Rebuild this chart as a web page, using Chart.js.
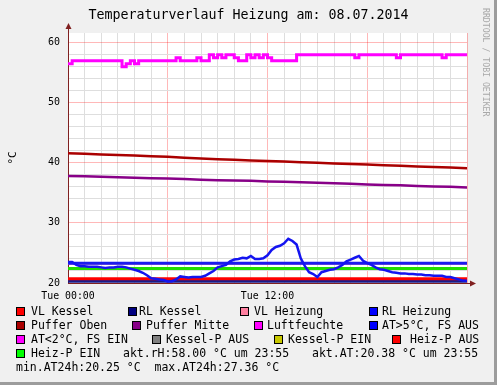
<!DOCTYPE html>
<html>
<head>
<meta charset="utf-8">
<script src="https://cdn.jsdelivr.net/npm/chart.js@4.4.1/dist/chart.umd.min.js"></script>
<style>
  html, body { margin: 0; padding: 0; background: #f0f0f0; }
  #wrap { position: relative; width: 497px; height: 385px; box-sizing: border-box;
          border-right: 3px solid #9c9c9c; border-bottom: 3px solid #9c9c9c; overflow: hidden; }
  #chart { position: absolute; left: 0; top: 0; }
  .txt { position: absolute; font-family: 'DejaVu Sans Mono', monospace; color: #000; white-space: pre; }
  #title { left: 0; width: 497px; top: 7px; text-align: center; font-size: 13.3px; }
  #mark { left: 481px; top: 8px; font-size: 8.2px; color: #a8a8a8; writing-mode: vertical-rl; }
  .box { position: absolute; width: 7px; height: 7px; border: 1px solid #000; }
  .leg { font-size: 11.5px; line-height: 14px; }
</style>
</head>
<body>
<div id="wrap">
  <canvas id="chart" width="497" height="385"></canvas>
  <div id="title" class="txt">Temperaturverlauf Heizung am: 08.07.2014</div>
  <div id="mark" class="txt">RRDTOOL / TOBI OETIKER</div>
  <div id="legend"></div>
</div>
<script>
// time in hours of 08.07.2014
const hourSteps = [0,1,2,3,4,5,6,7,8,9,10,11,12,13,14,15,16,17,18,19,20,21,22,23,24];
const quarterSteps = [];
for (let i = 0; i <= 96; i++) quarterSteps.push(i / 4);

const xTickLabels = { 0: 'Tue 00:00', 12: 'Tue 12:00' };
const yTickLabels = [20, 30, 40, 50, 60];

// hourly series (°C)
const vlKessel   = [20.7,20.7,20.7,20.7,20.7,20.7,20.7,20.7,20.7,20.7,20.7,20.7,20.7,20.7,20.7,20.7,20.7,20.7,20.7,20.7,20.7,20.7,20.7,20.7,20.7];
const rlKessel   = [20.3,20.3,20.3,20.3,20.3,20.3,20.3,20.3,20.3,20.3,20.3,20.3,20.3,20.3,20.3,20.3,20.3,20.3,20.3,20.3,20.3,20.3,20.3,20.3,20.3];
const vlHeizung  = [23.2,23.2,23.2,23.2,23.2,23.2,23.2,23.2,23.2,23.2,23.2,23.2,23.2,23.2,23.2,23.2,23.2,23.2,23.2,23.2,23.2,23.2,23.2,23.2,23.2];
const rlHeizung  = [23.3,23.3,23.3,23.3,23.3,23.3,23.3,23.3,23.3,23.3,23.3,23.3,23.3,23.3,23.3,23.3,23.3,23.3,23.3,23.3,23.3,23.3,23.3,23.3,23.3];
const pufferOben = [41.6,41.5,41.4,41.3,41.2,41.1,41.0,40.85,40.7,40.6,40.5,40.4,40.3,40.2,40.1,40.0,39.9,39.8,39.7,39.6,39.5,39.4,39.3,39.2,39.1];
const pufferMitte= [37.8,37.75,37.7,37.6,37.5,37.45,37.4,37.3,37.2,37.1,37.05,37.0,36.9,36.85,36.75,36.7,36.6,36.5,36.4,36.3,36.25,36.15,36.05,36.0,35.9];
const heizPEin   = [22.4,22.4,22.4,22.4,22.4,22.4,22.4,22.4,22.4,22.4,22.4,22.4,22.4,22.4,22.4,22.4,22.4,22.4,22.4,22.4,22.4,22.4,22.4,22.4,22.4];

// quarter-hourly series
const luftfeuchte = [56.5,57,57,57,57,57,57,57,57,57,57,57,57,56,56.5,57,56.5,57,57,57,57,57,57,57,
                     57,57,57.5,57,57,57,57,57.5,57,57,58,57.5,58,57.5,58,58,57.5,57,57,58,57.5,58,57.5,58,
                     57.5,57,57,57,57,57,57,58,58,58,58,58,58,58,58,58,58,58,58,58,58,57.5,58,58,
                     58,58,58,58,58,58,58,57.5,58,58,58,58,58,58,58,58,58,58,57.5,58,58,58,58,58,58];
const aussenTemp = [23.5,23.5,23.0,22.8,22.8,22.7,22.7,22.7,22.6,22.5,22.6,22.6,22.7,22.7,22.6,22.4,
                    22.2,22.0,21.7,21.3,20.8,20.7,20.6,20.5,20.25,20.3,20.6,21.1,21.0,20.9,21.0,21.0,
                    21.0,21.2,21.6,22.0,22.6,22.8,23.0,23.6,23.9,24.0,24.2,24.1,24.5,24.0,24.0,24.1,
                    24.6,25.5,26.0,26.2,26.6,27.36,27.0,26.4,24.1,22.8,21.8,21.5,21.0,21.8,22.0,22.2,
                    22.3,22.6,23.0,23.6,23.9,24.2,24.5,23.7,23.3,23.0,22.6,22.3,22.2,22.0,21.8,21.7,
                    21.6,21.6,21.5,21.5,21.4,21.4,21.3,21.3,21.2,21.2,21.2,21.0,21.0,20.8,20.6,20.4,20.38];

const legendNames  = ['VL Kessel','RL Kessel','VL Heizung','RL Heizung','Puffer Oben','Puffer Mitte','Luftfeuchte',
                      'AT>5°C, FS AUS','AT<2°C, FS EIN','Kessel-P AUS','Kessel-P EIN','Heiz-P AUS','Heiz-P EIN'];
const legendColors = ['#ff0000','#000080','#ff80a0','#0000ff','#aa0000','#880088','#ff00ff',
                      '#0000ff','#ff00ff','#808080','#c8c800','#ff0000','#00ff00'];
const infoTexts = ['akt.rH:58.00 °C um 23:55','akt.AT:20.38 °C um 23:55','min.AT24h:20.25 °C  max.AT24h:27.36 °C'];

function pts(xs, ys) { return xs.map((x, i) => ({ x: x, y: ys[i] })); }

// legend placement (row, box x, text x)
const legendPos = [[0,16,31],[0,128,139],[0,240,254],[0,369,382],
                   [1,16,31],[1,132,146],[1,254,267],[1,369,382],
                   [2,16,31],[2,152,166],[2,274,288],[2,392,410],
                   [3,16,31]];
const infoPos = [[3,123],[3,312],[4,16]];
const rowTop = [304, 318, 332, 346, 360];

const legend = document.getElementById('legend');
legendNames.forEach((name, i) => {
    const p = legendPos[i];
    const b = document.createElement('div');
    b.className = 'box';
    b.style.left = p[1] + 'px';
    b.style.top = (rowTop[p[0]] + 3) + 'px';
    b.style.background = legendColors[i];
    legend.appendChild(b);
    const t = document.createElement('div');
    t.className = 'txt leg';
    t.style.left = p[2] + 'px';
    t.style.top = rowTop[p[0]] + 'px';
    t.textContent = name;
    legend.appendChild(t);
});
infoTexts.forEach((s, i) => {
    const t = document.createElement('div');
    t.className = 'txt leg';
    t.style.left = infoPos[i][1] + 'px';
    t.style.top = rowTop[infoPos[i][0]] + 'px';
    t.textContent = s;
    legend.appendChild(t);
});

const plotBg = {
    id: 'plotBg',
    beforeDraw(chart) {
        const a = chart.chartArea, c = chart.ctx;
        c.save();
        c.fillStyle = '#ffffff';
        c.fillRect(a.left, a.top, a.right - a.left, a.bottom - a.top);
        c.restore();
    },
    afterDraw(chart) {
        // axis arrows like rrdtool
        const a = chart.chartArea, c = chart.ctx;
        c.save();
        c.strokeStyle = '#802020';
        c.fillStyle = '#802020';
        c.lineWidth = 1;
        c.beginPath();
        c.moveTo(a.left + 0.5, a.top); c.lineTo(a.left + 0.5, a.top - 6);
        c.moveTo(a.right, a.bottom + 0.5); c.lineTo(a.right + 5, a.bottom + 0.5);
        c.stroke();
        c.beginPath();
        c.moveTo(a.left - 2.5, a.top - 4); c.lineTo(a.left + 3.5, a.top - 4); c.lineTo(a.left + 0.5, a.top - 10); c.fill();
        c.beginPath();
        c.moveTo(a.right + 3, a.bottom - 2.5); c.lineTo(a.right + 3, a.bottom + 3.5); c.lineTo(a.right + 9, a.bottom + 0.5); c.fill();
        c.restore();
    }
};

const mono = 'DejaVu Sans Mono';
function line(label, data, color, width, order, stepped) {
    return { label: label, data: data, borderColor: color, backgroundColor: color, borderWidth: width,
             pointRadius: 0, tension: 0, fill: false, order: order, stepped: stepped || false };
}
function isMajorY(v) { return yTickLabels.includes(Math.round(v)) && Math.abs(v - Math.round(v)) < 1e-6; }

new Chart(document.getElementById('chart'), {
    type: 'line',
    data: {
        datasets: [
            line('Luftfeuchte', pts(quarterSteps, luftfeuchte), '#ff00ff', 3, 1, true),
            line('AT', pts(quarterSteps, aussenTemp), '#1414f0', 2.5, 2),
            line('VL Kessel', pts(hourSteps, vlKessel), '#ff0000', 3, 3),
            line('Heiz-P EIN', pts(hourSteps, heizPEin), '#22dd00', 3, 4),
            line('RL Heizung', pts(hourSteps, rlHeizung), '#1c1cee', 3, 5),
            line('VL Heizung', pts(hourSteps, vlHeizung), '#ff80a0', 2, 6),
            line('RL Kessel', pts(hourSteps, rlKessel), '#1a1a88', 3, 7),
            line('Puffer Oben', pts(hourSteps, pufferOben), '#aa0000', 2.5, 8),
            line('Puffer Mitte', pts(hourSteps, pufferMitte), '#880088', 2.5, 9)
        ]
    },
    options: {
        responsive: false,
        animation: false,
        layout: { padding: { left: 0, top: 33, right: 30, bottom: 80 } },
        plugins: { legend: { display: false }, tooltip: { enabled: false } },
        scales: {
            x: {
                type: 'linear', min: 0, max: 24,
                afterFit: s => { s.height = 22; },
                ticks: {
                    stepSize: 1, autoSkip: false, maxRotation: 0, padding: 7,
                    color: '#000', font: { family: mono, size: 9.9 },
                    callback: v => xTickLabels[Math.round(v)] || ''
                },
                grid: {
                    drawTicks: false,
                    color: c => (c.tick && Math.round(c.tick.value) % 6 === 0) ? 'rgba(255,0,0,0.28)' : '#dedede'
                },
                border: { color: '#802020', width: 1 }
            },
            y: {
                min: 20, max: 61.6,
                afterFit: s => { s.width = 68; },
                afterBuildTicks: s => {
                    const t = [];
                    for (let v = 20; v <= 60; v += 2) t.push({ value: v });
                    s.ticks = t;
                },
                ticks: {
                    autoSkip: false, padding: 8,
                    color: '#000', font: { family: mono, size: 10 },
                    callback: v => isMajorY(v) ? String(Math.round(v)) : ''
                },
                grid: {
                    drawTicks: false,
                    color: c => (c.tick && isMajorY(c.tick.value)) ? 'rgba(255,0,0,0.28)' : '#dedede'
                },
                border: { color: '#802020', width: 1 },
                title: { display: true, text: '°C', color: '#000', font: { family: mono, size: 11 }, padding: { top: 7 } }
            }
        }
    },
    plugins: [plotBg]
});
</script>
</body>
</html>
